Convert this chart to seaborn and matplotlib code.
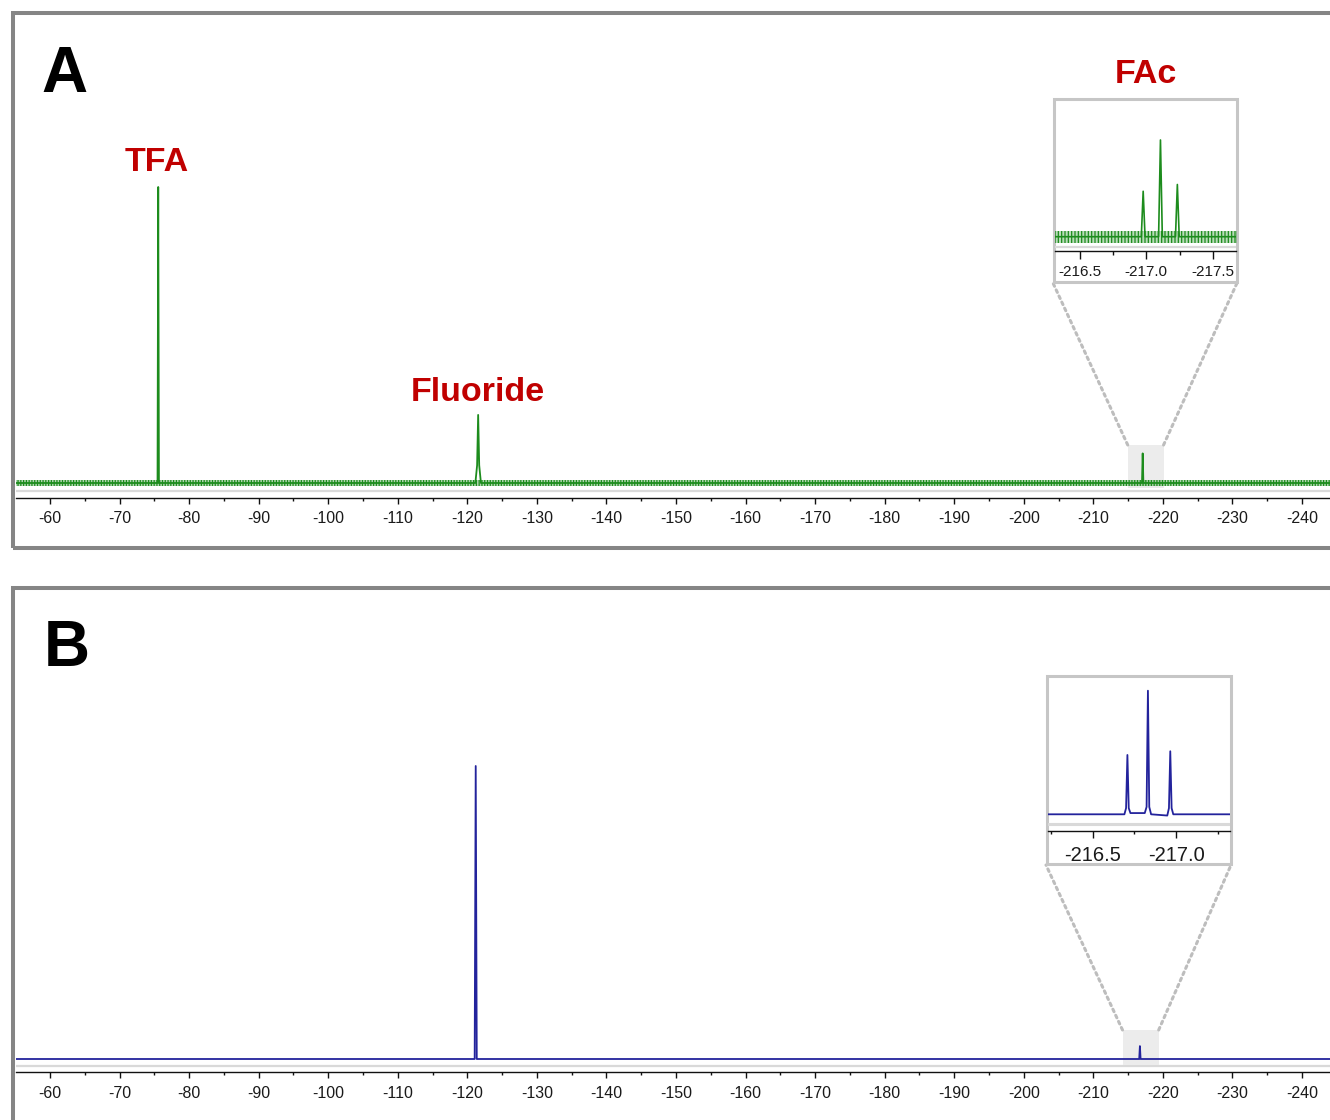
import numpy as np
import pandas as pd
import matplotlib
matplotlib.use("Agg")
import matplotlib.pyplot as plt
from matplotlib.patches import Rectangle, ConnectionPatch
from matplotlib.ticker import FixedLocator, MultipleLocator
import seaborn as sns

# ------------------------------------------------------------------ data
# Panel A: 19F spectrum (chemical shift, ppm / relative intensity)
shift_A = [-55.1, -75.45, -75.55, -75.65, -121.15, -121.40, -121.55, -121.70,
           -121.95, -217.00, -217.10, -217.20, -244.4]
inten_A = [0, 0, 100, 0, 0, 6, 23, 6, 0, 0, 10, 0, 0]
noise_A = 0.9          # half height of the baseline noise band

# Panel A inset: FAc triplet
shift_A_in = [-216.31, -216.962, -216.976, -216.990, -217.092, -217.106,
              -217.120, -217.219, -217.233, -217.247, -217.68]
inten_A_in = [0, 0, 47, 0, 0, 100, 0, 0, 54, 0, 0]
noise_A_in = 6.0

# Panel B: 19F spectrum
shift_B = [-55.1, -121.05, -121.2, -121.35, -216.60, -216.70, -216.80, -244.4]
inten_B = [0, 0, 100, 0, 0, 4.4, 0, 0]

# Panel B inset: FAc triplet
shift_B_in = [-216.23, -216.690, -216.700, -216.708, -216.716, -216.726,
              -216.812, -216.823, -216.831, -216.839, -216.850, -216.947,
              -216.957, -216.965, -216.973, -216.983, -217.33]
inten_B_in = [0, 0, 5, 48, 5, 1, 1, 6, 100, 6, 0, -1, 5, 51, 5, 0, 0]

main_ticks = [-60, -70, -80, -90, -100, -110, -120, -130, -140, -150, -160,
              -170, -180, -190, -200, -210, -220, -230, -240]
main_labels = ["-60", "-70", "-80", "-90", "-100", "-110", "-120", "-130",
               "-140", "-150", "-160", "-170", "-180", "-190", "-200", "-210",
               "-220", "-230", "-240"]
inA_ticks = [-216.5, -217.0, -217.5]
inA_labels = ["-216.5", "-217.0", "-217.5"]
inB_ticks = [-216.5, -217.0]
inB_labels = ["-216.5", "-217.0"]

peak_labels = ["TFA", "Fluoride", "FAc"]
peak_label_x = [-75.3, -121.5, -217.5]
zoom_box_A = [-214.95, -220.1]
zoom_box_B = [-214.2, -219.4]

# ------------------------------------------------------------------ style
sns.set_style("white")
plt.rcParams["font.family"] = ["Liberation Sans", "DejaVu Sans"]
plt.rcParams["hatch.linewidth"] = 0.9

GREEN = "#1d8c1d"
BLUE = "#23239c"
RED = "#c00000"
FRAME = "#858585"
LIGHT = "#c6c6c6"
W, H = 1330, 1120

fig = plt.figure(figsize=(W / 100, H / 100), dpi=100)


def add_ax(left, top, right, bottom, z=1):
    return fig.add_axes([left / W, 1 - bottom / H, (right - left) / W,
                         (bottom - top) / H], zorder=z)


def set_y(ax, top, bottom, base, ref_px, ref_val):
    s = (base - ref_px) / ref_val
    ax.set_ylim(-(bottom - base) / s, (base - top) / s)
    return lambda p: (base - p) / s


def style_axis(ax, ticks, labels, fs, maj, mino, pad, minor_step):
    for sp in ["left", "right", "top"]:
        ax.spines[sp].set_visible(False)
    ax.spines["bottom"].set_color("#111111")
    ax.spines["bottom"].set_linewidth(1.0)
    ax.set_yticks([])
    ax.xaxis.set_major_locator(FixedLocator(ticks))
    ax.set_xticklabels(labels)
    ax.xaxis.set_minor_locator(MultipleLocator(minor_step))
    ax.tick_params(axis="x", which="major", bottom=True, length=maj, width=1,
                   color="#111111", labelsize=fs, pad=pad, labelcolor="#1a1a1a")
    ax.tick_params(axis="x", which="minor", bottom=True, length=mino, width=1,
                   color="#111111")
    ax.set_xlabel("")
    ax.set_ylabel("")
    ax.set_facecolor("none")


def noise_band(ax, x0, x1, amp, hatch, alpha):
    ax.fill_between([x0, x1], -amp, amp, color=GREEN, alpha=alpha, lw=0, zorder=1)
    ax.fill_between([x0, x1], -amp, amp, facecolor="none", edgecolor=GREEN,
                    hatch=hatch, lw=0, zorder=1.2)


# ---------------- panel frames
fig.patches.append(Rectangle((13 / W, 1 - 547.5 / H), 1400 / W, 534.5 / H,
                             transform=fig.transFigure, fill=False,
                             ec=FRAME, lw=2.9, zorder=0.5))
fig.patches.append(Rectangle((13 / W, 1 - 1140 / H), 1400 / W, 552.5 / H,
                             transform=fig.transFigure, fill=False,
                             ec=FRAME, lw=2.9, zorder=0.5))

# ---------------- panel A main
axA = add_ax(16, 20, 1332, 497.5)
axA.set_xlim(-55.10, -244.32)
pA = set_y(axA, 20, 497.5, 483, 187, 100)
axA.axhline(pA(491), color="#d9d9d9", lw=1.6, zorder=0)
axA.fill_between(zoom_box_A, pA(488), pA(445), color="#ececec", lw=0, zorder=0.5)
noise_band(axA, shift_A[0], shift_A[-1], noise_A, "||||||", 0.35)
sns.lineplot(x=shift_A, y=inten_A, ax=axA, color=GREEN, lw=1.3,
             estimator=None, sort=False, zorder=2)
style_axis(axA, main_ticks, main_labels, 11.5, 4.3, 2.2, 5.5, 5)

# ---------------- panel B main
axB = add_ax(16, 600, 1332, 1072)
axB.set_xlim(-55.10, -244.32)
pB = set_y(axB, 600, 1072, 1059, 766, 100)
axB.axhline(pB(1066), color="#d9d9d9", lw=1.6, zorder=0)
axB.fill_between(zoom_box_B, pB(1065), pB(1030), color="#ececec", lw=0, zorder=0.5)
sns.lineplot(x=shift_B, y=inten_B, ax=axB, color=BLUE, lw=1.3,
             estimator=None, sort=False, zorder=2)
style_axis(axB, main_ticks, main_labels, 11.5, 4.3, 2.2, 5.5, 5)

# ---------------- inset frames
fig.patches.append(Rectangle((1053.5 / W, 1 - 281.5 / H), 183 / W, 183 / H,
                             transform=fig.transFigure, fc="white",
                             ec=LIGHT, lw=2.2, zorder=3))
fig.patches.append(Rectangle((1046.5 / W, 1 - 863.5 / H), 184 / W, 188 / H,
                             transform=fig.transFigure, fc="white",
                             ec=LIGHT, lw=2.2, zorder=3))

# ---------------- inset A
iA = add_ax(1055, 100, 1236, 251, z=5)
iA.set_xlim(-216.313, -217.674)
qA = set_y(iA, 100, 251, 236.7, 140, 100)
iA.axhline(qA(246.5), color="#d9d9d9", lw=1.6, zorder=0)
noise_band(iA, shift_A_in[0], shift_A_in[-1], noise_A_in, "|||||", 0.3)
sns.lineplot(x=shift_A_in, y=inten_A_in, ax=iA, color=GREEN, lw=1.2,
             estimator=None, sort=False, zorder=2)
style_axis(iA, inA_ticks, inA_labels, 11, 5.5, 2.8, 4.5, 0.25)

# ---------------- inset B
iB = add_ax(1048, 678, 1230, 831, z=5)
iB.set_xlim(-216.232, -217.323)
qB = set_y(iB, 678, 831, 814.3, 690.7, 100)
iB.axhline(qB(824), color="#d9d9d9", lw=2.2, zorder=0)
sns.lineplot(x=shift_B_in, y=inten_B_in, ax=iB, color=BLUE, lw=1.3,
             estimator=None, sort=False, zorder=2)
style_axis(iB, inB_ticks, inB_labels, 14.5, 5.0, 2.5, 5.5, 0.25)

# ---------------- connectors (zoom box -> inset frame)
def connect(ax, xdata, ydata, fx, fy):
    cp = ConnectionPatch(xyA=(xdata, ydata), coordsA=ax.transData,
                         xyB=(fx / W, 1 - fy / H), coordsB=fig.transFigure,
                         color="#bdbdbd", lw=2.2, linestyle=(0, (0.9, 1.3)),
                         capstyle="round", zorder=2.5)
    fig.patches.append(cp)

connect(axA, zoom_box_A[0], pA(445), 1053, 283)
connect(axA, zoom_box_A[1], pA(445), 1237, 283)
connect(axB, zoom_box_B[0], pB(1030), 1046, 865)
connect(axB, zoom_box_B[1], pB(1030), 1231, 865)

# ---------------- texts
fig.text(41 / W, 1 - 92 / H, "A", fontsize=46, fontweight="bold",
         color="black", ha="left", va="baseline")
fig.text(44 / W, 1 - 666 / H, "B", fontsize=46, fontweight="bold",
         color="black", ha="left", va="baseline")
label_base_px = [171, 401, 83]
for name, xd, yb in zip(peak_labels, peak_label_x, label_base_px):
    xpx = axA.transData.transform((xd, 0))[0]
    fig.text(xpx / W, 1 - yb / H, name, fontsize=24.5, fontweight="bold",
             color=RED, ha="center", va="baseline", zorder=6)

fig.savefig("out.png", dpi=100)
